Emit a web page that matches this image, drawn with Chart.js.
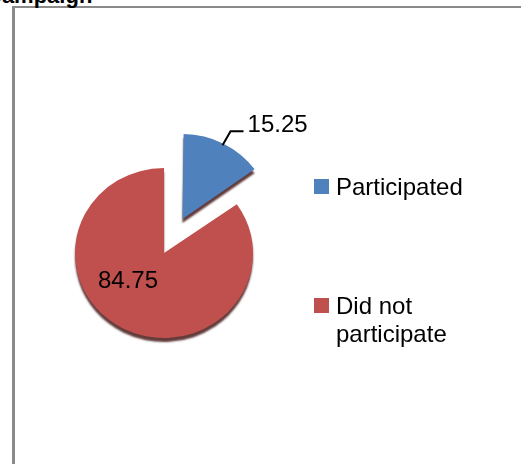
<!DOCTYPE html>
<html>
<head>
<meta charset="utf-8">
<script src="https://cdn.jsdelivr.net/npm/chart.js@4"></script>
<style>
  body { margin: 0; background: #fff; overflow: hidden; }
  #wrap { position: relative; width: 521px; height: 464px; }
  #frame { position: absolute; left: 12px; top: 6px; right: -4px; bottom: -4px;
    border-left: 3px solid #8a8a8a; border-top: 2px solid #8a8a8a; }
  #title { position: absolute; left: -14px; top: -17px; font: bold 22px "Liberation Sans", Arial, sans-serif;
    color: #000; white-space: nowrap; }
  #myChart { position: absolute; left: 0; top: 0; }
</style>
</head>
<body>
<div id="wrap">
  <div id="frame"></div>
  <div id="title">Campaign</div>
  <canvas id="myChart" width="521" height="464"></canvas>
</div>
<script>
'use strict';

// Chart data
const labels = ['Participated', 'Did not participate'];
const legendLines = [['Participated'], ['Did not', 'participate']];
const values = [15.25, 84.75];
const colors = ['#4f81bd', '#c0504d'];

const FONT = '24px "Liberation Sans", Arial, sans-serif';
const squash = 0.955;
const explode = 40; // pixels the small slice is pulled out

// chart.js v4 moves a slice by offset/4 and grows its radius a bit,
// so undo the growth while drawing
function radiusGrowth(el) {
  const off = (el.options.offset || 0) / 4;
  const fix = 1 - Math.sin(Math.min(Math.PI, el.circumference || 0));
  return off * fix;
}

// make the pie a bit flat and give it a dark rim
const tiltPlugin = {
  id: 'tilt',
  beforeDatasetsDraw(chart) {
    const ctx = chart.ctx;
    const arcs = chart.getDatasetMeta(0).data;
    arcs.forEach(function (el) {
      el._savedR = el.outerRadius;
      el.outerRadius = el.outerRadius - radiusGrowth(el);
    });
    const cy = arcs[1].y;
    ctx.save();
    ctx.translate(0, cy);
    ctx.scale(1, squash);
    ctx.translate(0, -cy);
    ctx.shadowColor = 'rgba(70,25,25,0.85)';
    ctx.shadowOffsetY = 4;
    ctx.shadowBlur = 2;
  },
  afterDatasetsDraw(chart) {
    chart.ctx.restore();
    chart.getDatasetMeta(0).data.forEach(function (el) {
      el.outerRadius = el._savedR;
    });
  }
};

// value labels and legend
const labelPlugin = {
  id: 'labels',
  afterDraw(chart) {
    const ctx = chart.ctx;
    const meta = chart.getDatasetMeta(0);
    const blue = meta.data[0];
    const red = meta.data[1];
    const cy = red.y;
    ctx.save();
    ctx.font = FONT;
    ctx.fillStyle = '#000';
    ctx.textBaseline = 'alphabetic';

    // leader line from the small slice
    const half = (blue.startAngle + blue.endAngle) / 2;
    const bx = blue.x + Math.cos(half) * explode;
    const by = blue.y + Math.sin(half) * explode;
    const a = blue.startAngle + (blue.endAngle - blue.startAngle) * 0.5;
    const px = bx + Math.cos(a) * (blue.outerRadius - 2);
    const py = cy + (by - cy + Math.sin(a) * (blue.outerRadius - 2)) * squash;
    const ly = py - 14;
    ctx.strokeStyle = '#000';
    ctx.lineWidth = 2;
    ctx.beginPath();
    ctx.moveTo(px, py);
    ctx.lineTo(px + 8, ly);
    ctx.lineTo(px + 21, ly);
    ctx.stroke();
    ctx.fillText(values[0].toFixed(2), px + 25, ly + 1);

    // big slice value inside
    ctx.fillText(values[1].toFixed(2), red.x - 66, cy + 35);

    // legend
    const lx = 314;
    const ys = [179, 298];
    for (let i = 0; i < labels.length; i++) {
      ctx.fillStyle = colors[i];
      ctx.fillRect(lx, ys[i], 15, 15);
      ctx.fillStyle = '#000';
      for (let j = 0; j < legendLines[i].length; j++) {
        ctx.fillText(legendLines[i][j], lx + 22, ys[i] + 16 + j * 28);
      }
    }
    ctx.restore();
  }
};

const ctx = document.getElementById('myChart').getContext('2d');
const chart = new Chart(ctx, {
  type: 'pie',
  data: {
    labels: labels,
    datasets: [{
      data: values,
      backgroundColor: colors,
      borderWidth: 0,
      offset: [explode * 4, 0],
      radius: 89
    }]
  },
  options: {
    responsive: false,
    animation: false,
    events: [],
    layout: { padding: { left: 20, right: 213, top: 120, bottom: 78 } },
    plugins: {
      legend: { display: false },
      tooltip: { enabled: false }
    }
  },
  plugins: [tiltPlugin, labelPlugin]
});
</script>
</body>
</html>
